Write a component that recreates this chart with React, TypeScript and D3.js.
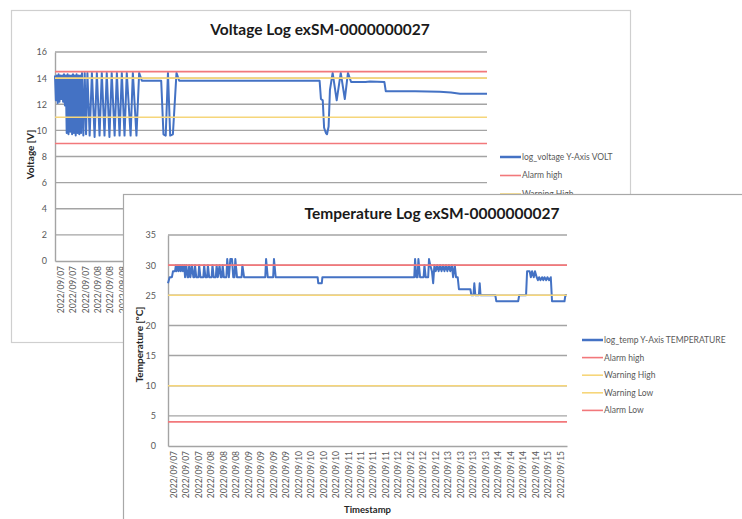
import React, { useEffect, useRef } from 'react'
import * as d3 from 'd3'

// x values are hours counted from 2022/09/07 06:00
const hourSpan = [0, 192]

const voltageLog: [number, number][] = [
  [0, 14.2], [0.4, 12.3], [0.8, 14.2], [1.2, 12.1], [1.6, 14.3], [2.0, 12.2], [2.4, 14.2], [2.8, 12.4],
  [3.2, 14.2], [3.6, 12.2], [4.0, 14.3], [4.4, 11.9], [4.8, 14.2], [5.2, 9.8], [5.6, 14.3], [6.0, 9.7],
  [6.4, 14.2], [6.8, 9.9], [7.2, 14.2], [7.6, 9.7], [8.0, 14.3], [8.4, 9.8], [8.8, 14.2], [9.2, 9.6],
  [9.6, 14.3], [10.0, 9.8], [10.4, 14.2], [10.8, 9.7], [11.2, 14.2], [11.6, 9.8], [12.0, 14.4], [12.6, 9.6],
  [13.2, 14.4], [13.8, 9.7], [14.4, 14.4], [15.4, 9.6], [16.4, 14.4], [17.6, 9.5], [18.6, 14.4], [19.8, 9.6],
  [20.8, 14.4], [22, 9.6], [23, 14.4], [24.2, 9.5], [25.2, 14.4], [26.5, 9.6], [27.5, 14.4], [28.7, 9.6],
  [29.7, 14.4], [30.9, 9.6], [31.9, 14.4], [33.6, 9.6], [34.6, 14.4], [36.2, 9.6], [37.4, 14.4], [38.6, 13.8],
  [47.2, 13.8], [48.2, 9.7], [49.2, 9.6], [50.2, 14.4], [51.2, 9.6], [52.4, 9.7], [54, 14.4], [55.2, 13.8],
  [117.6, 13.8], [118.2, 12.4], [119.0, 12.3], [119.6, 10.2], [120.4, 9.8], [120.9, 9.7], [121.6, 10.3],
  [122.2, 13.1], [123.4, 14.4], [125.2, 12.3], [127, 14.4], [128.8, 12.4], [130.2, 14.4], [131.6, 13.7],
  [138, 13.7], [140, 13.75], [146.4, 13.7], [147, 13.0], [160, 13.0], [171, 12.95], [176, 12.9], [180, 12.8],
  [192, 12.8],
]

const tempLog: [number, number][] = [
  [0, 27], [0.8, 28], [1.9, 28], [2.4, 29], [3.4, 29], [3.8, 30], [4.2, 29], [4.8, 30], [5.2, 29], [5.8, 30],
  [6.2, 29], [6.8, 30], [7.2, 29], [7.8, 30], [8.2, 28], [8.8, 30], [9.4, 28], [9.8, 28], [10.2, 30], [10.8, 28],
  [11.5, 30], [12.2, 28], [12.6, 28], [13, 30], [13.6, 28], [14.6, 28], [15, 30], [15.6, 28], [17, 28],
  [17.4, 30], [18, 28], [18.8, 28], [19.2, 30], [19.8, 28], [21, 28], [21.4, 30], [22, 28], [23, 28],
  [23.4, 30], [24, 28], [24.8, 30], [25.4, 28], [25.9, 28], [26.3, 30], [26.9, 28], [28.1, 28],
  [28.5, 31], [29.3, 28], [30, 31], [30.8, 31], [31.4, 28], [32, 28], [32.4, 31], [33.2, 28], [35.4, 28],
  [35.8, 30], [36.6, 28], [46.8, 28], [47.2, 31], [48, 28], [50.6, 28], [51, 31], [51.8, 28], [72, 28],
  [72.3, 27], [74, 27], [74.3, 28], [118.5, 28], [118.9, 31], [119.5, 28], [120.1, 28], [120.5, 31],
  [121.3, 28], [123, 28], [123.4, 30], [124, 28], [125.2, 28], [125.6, 31], [126.2, 30],
  [127, 29], [127.6, 27], [128.2, 30], [128.8, 29], [129.6, 30], [130.2, 29], [131, 30], [131.6, 29],
  [132.4, 30], [133, 29], [133.8, 30], [134.4, 29], [135.2, 30], [135.8, 29], [136.6, 30], [137.2, 28],
  [138, 30], [138.6, 28], [139.4, 28], [140, 26], [145.5, 26], [146, 25], [147, 25], [147.4, 27], [147.9, 25],
  [149.6, 25], [150, 27], [150.4, 25], [157.5, 25], [158, 24], [168.5, 24], [169, 25], [172.3, 25],
  [172.8, 29], [174, 29], [174.6, 28], [175.2, 29], [176, 28], [176.6, 29], [177.4, 28], [178, 27.5],
  [178.6, 28], [179.2, 27.5], [180, 28], [180.6, 27.5], [181.2, 28], [182, 27.5], [182.6, 28], [183.4, 27.5],
  [184.2, 28], [184.8, 24], [190.8, 24], [191.2, 25], [192, 25],
]

const voltageTicks = [0, 2, 4, 6, 8, 10, 12, 14, 16]
const tempTicks = [0, 5, 10, 15, 20, 25, 30, 35]

const voltageLimits = [
  { name: 'Alarm high', value: 14.5, kind: 'alarm' },
  { name: 'Warning High', value: 14, kind: 'warning' },
  { name: 'Warning Low', value: 11, kind: 'warning' },
  { name: 'Alarm Low', value: 9, kind: 'alarm' },
]
const tempLimits = [
  { name: 'Alarm high', value: 30, kind: 'alarm' },
  { name: 'Warning High', value: 25, kind: 'warning' },
  { name: 'Warning Low', value: 10, kind: 'warning' },
  { name: 'Alarm Low', value: 4, kind: 'alarm' },
]

const voltageDates = [
  '2022/09/07', '2022/09/07', '2022/09/07', '2022/09/08', '2022/09/08', '2022/09/08', '2022/09/08',
  '2022/09/09', '2022/09/09', '2022/09/09', '2022/09/09', '2022/09/10', '2022/09/10', '2022/09/10',
  '2022/09/10', '2022/09/11', '2022/09/11', '2022/09/11', '2022/09/11', '2022/09/12', '2022/09/12',
  '2022/09/12', '2022/09/12', '2022/09/13', '2022/09/13', '2022/09/13', '2022/09/13', '2022/09/14',
  '2022/09/14', '2022/09/14', '2022/09/14', '2022/09/15', '2022/09/15', '2022/09/15', '2022/09/15',
]
const tempDates = [
  '2022/09/07', '2022/09/07', '2022/09/07', '2022/09/08', '2022/09/08', '2022/09/08',
  '2022/09/09', '2022/09/09', '2022/09/09', '2022/09/09', '2022/09/10', '2022/09/10', '2022/09/10',
  '2022/09/10', '2022/09/11', '2022/09/11', '2022/09/11', '2022/09/11', '2022/09/12', '2022/09/12',
  '2022/09/12', '2022/09/12', '2022/09/13', '2022/09/13', '2022/09/13', '2022/09/13', '2022/09/14',
  '2022/09/14', '2022/09/14', '2022/09/14', '2022/09/15', '2022/09/15',
]

const BLUE = '#4472c4'
const RED = '#f2787b'
const YELLOW = '#f6d67a'
const GRID = '#a4a4a4'
const TEXT = '#595959'
const FONT = 'Lato, "Liberation Sans", sans-serif'

function drawChart(root: any, o: any) {
  const g = root.append('g')
  g.append('rect')
    .attr('x', o.frame.x + 0.5).attr('y', o.frame.y + 0.5)
    .attr('width', o.frame.w).attr('height', o.frame.h)
    .attr('fill', '#fff').attr('stroke', o.frame.stroke).attr('stroke-width', 1.2)

  const x = d3.scaleLinear().domain(hourSpan).range([o.plot.left, o.plot.right])
  const y = d3.scaleLinear().domain([0, d3.max(o.yTicks) as number]).range([o.plot.bottom, o.plot.top])

  g.append('text')
    .attr('x', o.titleX).attr('y', o.titleY)
    .attr('text-anchor', 'middle')
    .style('font', `bold 15.5px ${FONT}`).attr('fill', '#1a1a1a')
    .text(o.title)

  // gridlines
  g.append('g').selectAll('line')
    .data(o.yTicks.filter((t: number) => t > 0))
    .join('line')
    .attr('x1', o.plot.left).attr('x2', o.plot.right)
    .attr('y1', (d: number) => y(d)).attr('y2', (d: number) => y(d))
    .attr('stroke', GRID).attr('stroke-width', 1.4)

  const yAxis = g.append('g')
    .attr('transform', `translate(${o.plot.left},0)`)
    .call(d3.axisLeft(y).tickValues(o.yTicks).tickSize(0).tickPadding(o.tickPad))
  yAxis.select('.domain').attr('stroke', GRID).attr('stroke-width', 1.4)
  yAxis.selectAll('text').attr('fill', TEXT).style('font', `9px ${FONT}`)

  const band = d3.scaleBand().domain(o.dates.map((_: string, i: number) => String(i))).range([o.plot.left, o.plot.right])
  const xAxis = g.append('g')
    .attr('transform', `translate(0,${o.plot.bottom})`)
    .call(d3.axisBottom(band).tickSize(0).tickFormat((i: string) => o.dates[+i]))
  xAxis.select('.domain').attr('stroke', GRID).attr('stroke-width', 1.4)
  xAxis.selectAll('text')
    .attr('transform', 'rotate(-90)')
    .attr('x', -5).attr('y', 0).attr('dy', '0.32em')
    .attr('text-anchor', 'end')
    .attr('fill', TEXT).style('font', `8.5px ${FONT}`)

  g.append('text')
    .attr('transform', `translate(${o.yTitleX},${(o.plot.top + o.plot.bottom) / 2 + o.yTitleShift}) rotate(-90)`)
    .attr('text-anchor', 'middle')
    .style('font', `bold 10px ${FONT}`).attr('fill', '#262626')
    .text(o.yTitle)

  if (o.xTitle) {
    g.append('text')
      .attr('x', (o.plot.left + o.plot.right) / 2).attr('y', o.xTitleY)
      .attr('text-anchor', 'middle')
      .style('font', `bold 9.5px ${FONT}`).attr('fill', '#262626')
      .text(o.xTitle)
  }

  const line = d3.line<[number, number]>().x(d => x(d[0])).y(d => y(d[1]))
  g.append('path')
    .datum(o.series)
    .attr('d', line)
    .attr('fill', 'none').attr('stroke', BLUE).attr('stroke-width', 2)
    .attr('stroke-linejoin', 'round')

  const colorOf = (k: string) => (k === 'alarm' ? RED : YELLOW)
  g.append('g').selectAll('line')
    .data(o.limits)
    .join('line')
    .attr('x1', o.plot.left).attr('x2', o.plot.right)
    .attr('y1', (d: any) => y(d.value)).attr('y2', (d: any) => y(d.value))
    .attr('stroke', (d: any) => colorOf(d.kind)).attr('stroke-width', 1.6)

  // legend: only the rows that are not hidden behind the window in front
  const entries = [{ name: o.seriesName, color: BLUE, w: 2.5 }]
    .concat(o.limits.map((d: any) => ({ name: d.name, color: colorOf(d.kind), w: 1.6 })))
    .slice(0, o.legend.rows)
  const lg = g.append('g').selectAll('g')
    .data(entries)
    .join('g')
    .attr('transform', (_: any, i: number) => `translate(${o.legend.x},${o.legend.y + i * o.legend.step})`)
  lg.append('line').attr('x1', 0).attr('x2', 21).attr('stroke', (d: any) => d.color).attr('stroke-width', (d: any) => d.w)
  lg.append('text').attr('x', 22).attr('dy', '0.35em')
    .attr('fill', TEXT).style('font', `8.5px ${FONT}`)
    .text((d: any) => d.name)
}

export default function App() {
  const ref = useRef<SVGSVGElement>(null)

  useEffect(() => {
    const svg = d3.select(ref.current)
    svg.selectAll('*').remove()
    svg.append('rect').attr('width', 742).attr('height', 519).attr('fill', '#fff')

    drawChart(svg, {
      frame: { x: 11, y: 10, w: 619, h: 332, stroke: '#cfcfcf' },
      plot: { left: 55, right: 487, top: 52, bottom: 261 },
      title: 'Voltage Log exSM-0000000027', titleX: 320, titleY: 35,
      yTicks: voltageTicks, tickPad: 8,
      yTitle: 'Voltage [V]', yTitleX: 34, yTitleShift: -2,
      dates: voltageDates,
      series: voltageLog, seriesName: 'log_voltage Y-Axis VOLT',
      limits: voltageLimits,
      legend: { x: 500, y: 157, step: 18.5, rows: 3 },
    })

    drawChart(svg, {
      frame: { x: 123, y: 194, w: 625, h: 335, stroke: '#a8a8a8' },
      plot: { left: 168, right: 567, top: 235, bottom: 446 },
      title: 'Temperature Log exSM-0000000027', titleX: 432, titleY: 219,
      yTicks: tempTicks, tickPad: 12,
      yTitle: 'Temperature [°C]', yTitleX: 143, yTitleShift: 4,
      dates: tempDates, xTitle: 'Timestamp', xTitleY: 513,
      series: tempLog, seriesName: 'log_temp Y-Axis TEMPERATURE',
      limits: tempLimits,
      legend: { x: 582, y: 340, step: 17.6, rows: 5 },
    })
  }, [])

  return (
    <svg ref={ref} width={742} height={519} style={{ position: 'absolute', left: 0, top: 0 }} />
  )
}
